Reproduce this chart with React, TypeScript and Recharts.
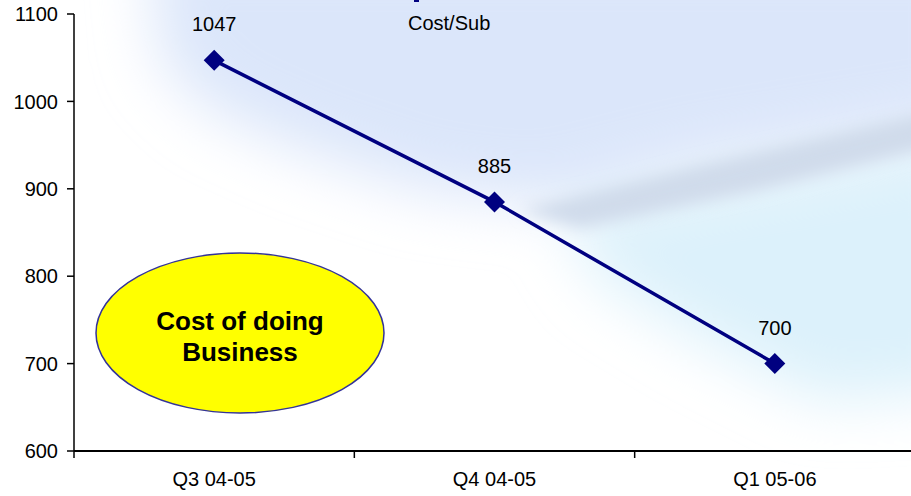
import { LabelList, Legend, Line, LineChart, XAxis, YAxis } from 'recharts'

const quarters = ['Q3 04-05', 'Q4 04-05', 'Q1 05-06']
const costPerSub = [1047, 885, 700]
const yTicks = [600, 700, 800, 900, 1000, 1100]

const data = quarters.map((q, i) => ({ q, cost: costPerSub[i] }))

const W = 915
const H = 496
const LEFT = 74
const BAND = (W - LEFT) / quarters.length
const NAVY = '#000080'
const FONT = '"Liberation Sans", Arial, sans-serif'

function QuarterTick(props: any) {
  const { x, y, payload, index } = props
  const bx = x - BAND / 2
  return (
    <g>
      <line x1={bx} y1={y} x2={bx} y2={y + 7} stroke="#000" strokeWidth={1.5} />
      {index === quarters.length - 1 && (
        <line x1={x + BAND / 2} y1={y} x2={x + BAND / 2} y2={y + 7} stroke="#000" strokeWidth={1.5} />
      )}
      <text x={x} y={y + 35} textAnchor="middle" fontSize={20} fill="#000" fontFamily={FONT}>
        {payload.value}
      </text>
    </g>
  )
}

function Diamond(props: any) {
  const { cx, cy } = props
  if (cx == null || cy == null) return null
  const r = 10.5
  return <path d={`M${cx},${cy - r}L${cx + r},${cy}L${cx},${cy + r}L${cx - r},${cy}Z`} fill={NAVY} />
}

function ValueLabel(props: any) {
  const { x, y, value } = props
  return (
    <text x={x} y={y - 29} textAnchor="middle" fontSize={20} fill="#000" fontFamily={FONT}>
      {value}
    </text>
  )
}

function LegendBox() {
  return (
    <div style={{ position: 'relative', height: 0 }}>
      <div style={{ position: 'absolute', left: 414, top: 0, width: 5, height: 2, background: NAVY }} />
      <div
        style={{
          position: 'absolute',
          left: 408,
          top: 9,
          fontSize: 20,
          fontFamily: FONT,
          color: '#000',
          whiteSpace: 'nowrap',
          lineHeight: '28px',
        }}
      >
        Cost/Sub
      </div>
    </div>
  )
}

function Backdrop() {
  return (
    <svg width={911} height={496} style={{ position: 'absolute', left: 0, top: 0 }}>
      <defs>
        <filter id="soft" x="-30%" y="-30%" width="160%" height="160%">
          <feGaussianBlur stdDeviation="30" />
        </filter>
        <filter id="soft2" x="-20%" y="-20%" width="140%" height="140%">
          <feGaussianBlur stdDeviation="8" />
        </filter>
      </defs>
      <rect width={911} height={496} fill="#fff" />
      <g filter="url(#soft)">
        <polygon
          points="150,-60 980,-60 980,120 700,165 540,205 420,190 300,150 210,110 160,60"
          fill="#dbe6fa"
        />
        <polygon points="560,215 980,140 980,390 820,400 700,340 600,280" fill="#dcf1fb" />
      </g>
      <g filter="url(#soft2)">
        <polygon points="520,210 700,165 960,105 960,140 760,190 580,228" fill="#d0dbeb" />
      </g>
    </svg>
  )
}

export default function App() {
  return (
    <div style={{ position: 'absolute', left: 0, top: 0, width: 911, height: 496, overflow: 'hidden' }}>
      <Backdrop />
      <div style={{ position: 'absolute', left: 0, top: 0 }}>
        <LineChart width={W} height={H} data={data} margin={{ top: 14, right: 0, bottom: 0, left: 0 }}>
          <Legend verticalAlign="top" content={() => <LegendBox />} wrapperStyle={{ top: 0, left: 0 }} />
          <XAxis
            dataKey="q"
            height={45}
            stroke="#000"
            strokeWidth={2}
            tickLine={false}
            tickSize={0}
            tickMargin={0}
            interval={0}
            padding={{ left: BAND / 2, right: BAND / 2 }}
            tick={<QuarterTick />}
          />
          <YAxis
            width={LEFT}
            domain={[600, 1100]}
            ticks={yTicks}
            interval={0}
            stroke="#000"
            strokeWidth={1.5}
            tickSize={7}
            tickMargin={9}
            tick={{ fontSize: 20, fill: '#000', fontFamily: FONT }}
          />
          <Line
            type="linear"
            dataKey="cost"
            name="Cost/Sub"
            stroke={NAVY}
            strokeWidth={3.5}
            dot={<Diamond />}
            activeDot={false}
            isAnimationActive={false}
          >
            <LabelList dataKey="cost" content={<ValueLabel />} />
          </Line>
        </LineChart>
      </div>
      <svg width={911} height={496} style={{ position: 'absolute', left: 0, top: 0, pointerEvents: 'none' }}>
        <ellipse cx={240} cy={333} rx={144} ry={80} fill="#ffff00" stroke="#333399" strokeWidth={1.5} />
        <text x={240} y={330} textAnchor="middle" fontSize={26} fontWeight="bold" fontFamily={FONT} fill="#000">
          Cost of doing
        </text>
        <text x={240} y={361} textAnchor="middle" fontSize={26} fontWeight="bold" fontFamily={FONT} fill="#000">
          Business
        </text>
      </svg>
    </div>
  )
}
